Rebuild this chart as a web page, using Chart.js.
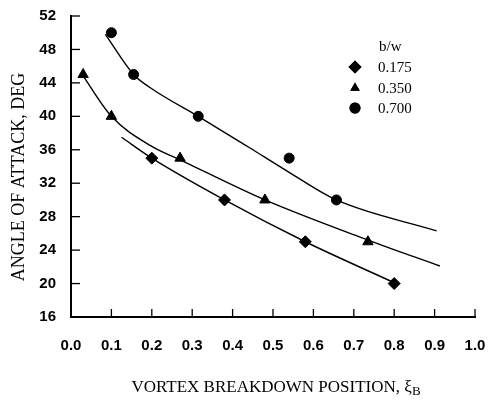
<!DOCTYPE html>
<html>
<head>
<meta charset="utf-8">
<script src="https://cdn.jsdelivr.net/npm/chart.js@4/dist/chart.umd.min.js"></script>
<style>
html,body{margin:0;padding:0;background:#fff;}
#wrap{width:490px;height:406px;position:relative;}
</style>
</head>
<body>
<div id="wrap"><canvas id="c" width="490" height="406"></canvas></div>
<script>
// ---- data ----
const legendTitle = 'b/w';
const seriesLabels = ['0.175', '0.350', '0.700'];
const seriesStyles = ['rectRot', 'triangle', 'circle'];

const pts175x = [0.20, 0.38, 0.58, 0.80];
const pts175y = [35, 30, 25, 20];
const pts350x = [0.03, 0.10, 0.27, 0.48, 0.735];
const pts350y = [45, 40, 35, 30, 25];
const pts700x = [0.10, 0.155, 0.315, 0.54, 0.657];
const pts700y = [50, 45, 40, 35, 30];

// faired curves
const fit175x = [0.125, 0.20, 0.38, 0.58, 0.80];
const fit175y = [37.5, 35.0, 30.0, 25.0, 20.1];
const fit350x = [0.025, 0.10, 0.20, 0.27, 0.48, 0.735, 0.913];
const fit350y = [45.2, 40.0, 36.4, 34.8, 30.0, 25.2, 22.1];
const fit700x = [0.085, 0.155, 0.20, 0.315, 0.44, 0.54, 0.657, 0.905];
const fit700y = [49.8, 45.0, 43.3, 40.0, 36.3, 33.3, 30.0, 26.3];

const xTickValues = [0.0, 0.1, 0.2, 0.3, 0.4, 0.5, 0.6, 0.7, 0.8, 0.9, 1.0];
const yTickValues = [16, 20, 24, 28, 32, 36, 40, 44, 48, 52];

const xTitle = 'VORTEX BREAKDOWN POSITION, \u03BE';
const xTitleSub = 'B';
const yTitle = 'ANGLE OF ATTACK, DEG';

// ---- build chart ----
const zip = (xs, ys) => xs.map((x, i) => ({x: x, y: ys[i]}));
const pointSets = [[pts175x, pts175y], [pts350x, pts350y], [pts700x, pts700y]];
const fitSets = [[fit175x, fit175y], [fit350x, fit350y], [fit700x, fit700y]];
const radii = [6, 6, 5];

const datasets = [];
fitSets.forEach((s, i) => {
  datasets.push({
    label: 'fit ' + seriesLabels[i],
    data: zip(s[0], s[1]),
    showLine: true,
    borderColor: '#000',
    borderWidth: 1.4,
    pointRadius: 0,
    cubicInterpolationMode: 'monotone',
    fill: false
  });
});
pointSets.forEach((s, i) => {
  datasets.push({
    label: seriesLabels[i],
    data: zip(s[0], s[1]),
    showLine: false,
    pointStyle: seriesStyles[i],
    pointRadius: radii[i],
    backgroundColor: '#000',
    borderColor: '#000',
    borderWidth: 1
  });
});

const tickFont = {family: "'Liberation Sans', Arial, sans-serif", size: 15, weight: 'bold'};

const decorPlugin = {
  id: 'decor',
  afterDraw(chart) {
    const ctx = chart.ctx;
    const xs = chart.scales.x, ys = chart.scales.y;
    ctx.save();
    ctx.strokeStyle = '#000';
    ctx.lineWidth = 1.3;
    // inward tick marks
    yTickValues.forEach(v => {
      if (v === 16) return;
      const py = ys.getPixelForValue(v);
      ctx.beginPath();
      ctx.moveTo(xs.left, py);
      ctx.lineTo(xs.left + 9, py);
      ctx.stroke();
    });
    xTickValues.forEach(v => {
      if (v === 0) return;
      const px = xs.getPixelForValue(v);
      ctx.beginPath();
      ctx.moveTo(px, ys.bottom);
      ctx.lineTo(px, ys.bottom - 8);
      ctx.stroke();
    });
    ctx.fillStyle = '#000';
    // y title
    ctx.save();
    ctx.translate(19, 177);
    ctx.rotate(-Math.PI / 2);
    ctx.font = "18px 'Liberation Serif', serif";
    ctx.textAlign = 'center';
    ctx.textBaseline = 'middle';
    ctx.fillText(yTitle, 0, 0);
    ctx.restore();
    // x title with subscript
    ctx.font = "17px 'Liberation Serif', serif";
    ctx.textBaseline = 'alphabetic';
    const w1 = ctx.measureText(xTitle).width;
    ctx.font = "13px 'Liberation Serif', serif";
    const w2 = ctx.measureText(xTitleSub).width;
    const cx = 276;
    const x0 = cx - (w1 + w2) / 2;
    ctx.font = "17px 'Liberation Serif', serif";
    ctx.fillText(xTitle, x0, 392);
    ctx.font = "13px 'Liberation Serif', serif";
    ctx.fillText(xTitleSub, x0 + w1, 395);
    // legend
    ctx.font = "15px 'Liberation Serif', serif";
    ctx.textBaseline = 'middle';
    ctx.fillText(legendTitle, 379, 47);
    const rows = [67, 88, 108];
    seriesLabels.forEach((lab, i) => {
      Chart.helpers.drawPoint(ctx, {pointStyle: seriesStyles[i], radius: i === 0 ? 6.5 : 5.5, rotation: 0, borderWidth: 0}, 355, rows[i]);
      ctx.fill();
      ctx.fillText(lab, 378, rows[i] + 1);
    });
    ctx.restore();
  }
};

new Chart(document.getElementById('c'), {
  type: 'scatter',
  data: {datasets: datasets},
  plugins: [decorPlugin],
  options: {
    responsive: false,
    animation: false,
    layout: {padding: {top: 16, right: 15, left: 0, bottom: 0}},
    plugins: {legend: {display: false}, tooltip: {enabled: false}},
    elements: {point: {hitRadius: 0}},
    clip: false,
    scales: {
      x: {
        type: 'linear',
        min: 0, max: 1,
        afterBuildTicks(s) { s.ticks = xTickValues.map(v => ({value: v})); },
        afterFit(s) { s.height = 89; s.paddingLeft = 0; s.paddingRight = 0; },
        grid: {display: false, drawTicks: false},
        border: {display: true, color: '#000', width: 2},
        ticks: {color: '#000', font: tickFont, padding: 20, maxRotation: 0,
          callback: v => Number(v).toFixed(1)},
        title: {display: false}
      },
      y: {
        type: 'linear',
        min: 16, max: 52,
        afterBuildTicks(s) { s.ticks = yTickValues.map(v => ({value: v})); },
        afterFit(s) { s.width = 71; s.paddingTop = 0; s.paddingBottom = 0; },
        grid: {display: false, drawTicks: false},
        border: {display: true, color: '#000', width: 2},
        ticks: {color: '#000', font: tickFont, padding: 15},
        title: {display: false}
      }
    }
  }
});
</script>
</body>
</html>
